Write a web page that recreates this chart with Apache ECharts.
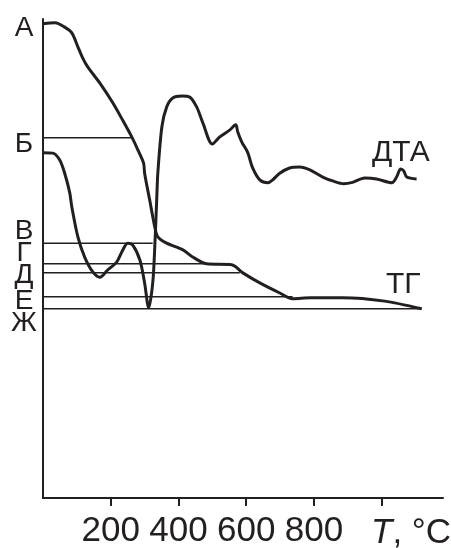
<!DOCTYPE html>
<html><head><meta charset="utf-8">
<script src="https://cdn.jsdelivr.net/npm/echarts@6/dist/echarts.min.js"></script>
<style>html,body{margin:0;padding:0;background:#fff}#c{width:451px;height:548px}</style>
</head><body><div id="c"></div>
<script>
// Temperature (°C) vs signal (arbitrary units, 0..100)
const tgCurve = [
 [0,99.0],[35,99.2],[64,98.3],[85,97.1],[103,94.2],[117,91.9],[132,90.0],[168,86.6],
 [206,82.5],[235,78.9],[262,75.4],[280,72.7],[297,69.9],[300,67.8],[315,62.2],[330,56.6],
 [339,54.5],[365,53.2],[413,51.8],[442,50.3],[483,48.9],[557,48.7],[590,47.0],[640,44.9],
 [699,42.8],[737,41.6],[790,41.8],[838,41.8],[885,41.8],[1009,41.1],[1118,39.5]
];
const dtaCurve = [
 [0,72.1],[29,72.0],[49,70.6],[64,67.8],[79,63.7],[85,60.8],[103,54.5],[123,50.3],
 [147,47.2],[168,46.1],[191,47.6],[218,49.3],[233,51.4],[250,53.2],[265,52.8],[286,49.7],
 [300,44.9],[312,39.7],[324,44.9],[330,52.4],[336,62.8],[339,67.8],[351,77.5],[365,81.6],
 [383,83.5],[410,83.9],[433,83.7],[454,81.6],[472,78.3],[500,73.9],[522,75.4],[551,76.8],
 [569,77.9],[575,76.4],[587,74.3],[604,72.2],[619,68.9],[640,66.4],[664,65.8],[678,66.4],
 [699,67.8],[728,68.9],[758,69.1],[788,68.5],[826,67.0],[855,66.2],[888,65.6],[914,65.9],
 [950,66.8],[985,66.6],[1030,65.8],[1044,67.0],[1056,68.7],[1065,68.3],[1074,67.0],[1103,66.6]
];
// Reference levels: [name, level, end temperature]
const levelNames = ['Б','В','Г','Д','Е','Ж'];
const levelValues = [75.2, 53.2, 48.9, 47.0, 42.0, 39.5];
const levelEnds = [262, 324, 483, 581, 737, 1118];
const xTicks = [200, 400, 600, 800, 1000];
const xLabels = ['200','400','600','800',''];

const ink = '#231f20';
const fam = '"Liberation Sans", Arial, sans-serif';
const series = [
 {type:'line', data:tgCurve, smooth:0.3, symbol:'none', lineStyle:{color:ink,width:3}, z:3},
 {type:'line', data:dtaCurve, smooth:0.3, symbol:'none', lineStyle:{color:ink,width:3}, z:3}
];
levelValues.forEach((v,i)=>{
  series.push({type:'line', data:[[0,v],[levelEnds[i],v]], symbol:'none',
    lineStyle:{color:ink,width:1.5}, z:2});
});
const txt = (t,x,y,size,align)=>({type:'text', x:x, y:y, style:{text:t, fill:ink,
  font:size+'px '+fam, textAlign:align||'center', textVerticalAlign:'middle'}});
const chart = echarts.init(document.getElementById('c'));
chart.setOption({
  animation:false,
  grid:{left:43, top:19, right:8, bottom:50, outerBoundsMode:'none', containLabel:false},
  xAxis:{type:'value', min:0, max:1181,
    axisLine:{lineStyle:{color:ink,width:2}},
    axisTick:{show:true, length:8, lineStyle:{color:ink,width:2}, customValues:xTicks},
    axisLabel:{customValues:xTicks, formatter:v=>xLabels[xTicks.indexOf(v)]||'',
      color:ink, fontSize:35, fontFamily:fam, margin:16},
    splitLine:{show:false}},
  yAxis:{type:'value', min:0, max:100,
    axisLine:{show:true, lineStyle:{color:ink,width:2}},
    axisTick:{show:false}, axisLabel:{show:false}, splitLine:{show:false}},
  series:series,
  graphic:[
    txt('А',24,28,28), txt('Б',24,144,28), txt('В',24,231,28), txt('Г',24,253,28),
    txt('Д',24,275,28), txt('Е',24,301,28), txt('Ж',24,323,28),
    txt('ДТА',372,153,30,'left'), txt('ТГ',386,285,30,'left'),
    {type:'text', x:371, y:533, style:{rich:{i:{fontStyle:'italic', fontSize:35, fill:ink, fontFamily:fam}, n:{fontSize:35, fill:ink, fontFamily:fam}}, text:'{i|T}{n|, °C}', textVerticalAlign:'middle'}}
  ]
});
</script></body></html>
